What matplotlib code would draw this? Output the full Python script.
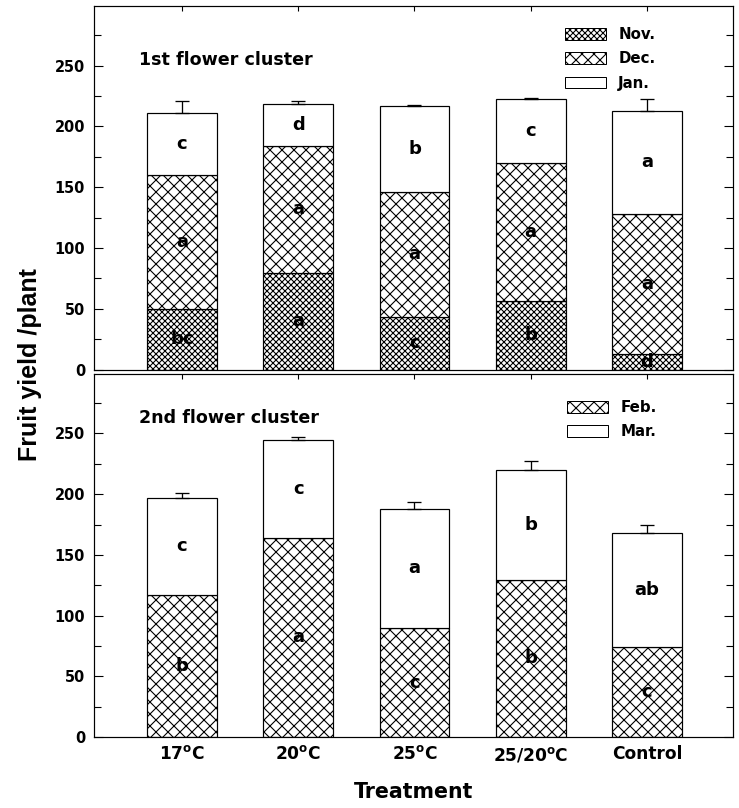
import matplotlib
matplotlib.use('Agg')
import matplotlib.pyplot as plt
import numpy as np
from matplotlib.patches import Patch
from matplotlib.ticker import MultipleLocator

plt.rcParams['font.family'] = ['DejaVu Sans']
plt.rcParams['font.weight'] = 'bold'
plt.rcParams['mathtext.fontset'] = 'custom'
plt.rcParams['mathtext.bf'] = 'DejaVu Sans:bold'
plt.rcParams['mathtext.rm'] = 'DejaVu Sans:bold'
plt.rcParams['hatch.linewidth'] = 1.1

# ---- data ----
treatments = ['17$^{\\mathrm{o}}$C', '20$^{\\mathrm{o}}$C', '25$^{\\mathrm{o}}$C',
              '25/20$^{\\mathrm{o}}$C', 'Control']

# 1st flower cluster (segment heights)
nov = [49.7, 79.5, 43.0, 56.4, 12.8]
dec = [110.5, 104.6, 103.2, 113.7, 115.2]
jan = [50.8, 34.3, 70.8, 52.5, 84.7]
err1 = [9.6, 2.2, 0.7, 0.8, 9.9]
letters_nov = ['bc', 'a', 'c', 'b', 'd']
letters_dec = ['a', 'a', 'a', 'a', 'a']
letters_jan = ['c', 'd', 'b', 'c', 'a']

# 2nd flower cluster (segment heights)
feb = [117.3, 164.2, 89.6, 129.7, 74.0]
mar = [79.8, 80.6, 98.5, 90.4, 94.3]
err2 = [4.1, 2.1, 5.7, 7.4, 6.6]
letters_feb = ['b', 'a', 'c', 'b', 'c']
letters_mar = ['c', 'c', 'a', 'b', 'ab']

W, H = 739, 808
fig = plt.figure(figsize=(W / 72, H / 72), dpi=72)
left = 94 / W
width = (733 - 94) / W
ax1 = fig.add_axes([left, 1 - 369.5 / H, width, 363.5 / H])
ax2 = fig.add_axes([left, 1 - 737 / H, width, 363 / H])

x = np.arange(1, len(treatments) + 1)
bw = 0.6

HATCH_DENSE = 'xxxx'
HATCH_WIDE = 'xx'


def draw_stack(ax, segs, hatches, letters, err):
    bottom = np.zeros(len(x))
    for seg, h, lab in zip(segs, hatches, letters):
        seg = np.asarray(seg)
        ax.bar(x, seg, bw, bottom=bottom, color='white', edgecolor='black',
               hatch=h, linewidth=1.2, zorder=2)
        for xi, b, s, t in zip(x, bottom, seg, lab):
            ax.text(xi, b + s / 2, t, ha='center', va='center', fontsize=18,
                    fontweight='bold', color='black', zorder=4)
        bottom = bottom + seg
    ax.errorbar(x, bottom, yerr=[np.zeros(len(x)), err], fmt='none',
                ecolor='black', elinewidth=1.3, capsize=7, capthick=1.3, zorder=3)


draw_stack(ax1, [nov, dec, jan], [HATCH_DENSE, HATCH_WIDE, ''],
           [letters_nov, letters_dec, letters_jan], err1)
draw_stack(ax2, [feb, mar], [HATCH_WIDE, ''], [letters_feb, letters_mar], err2)

for ax in (ax1, ax2):
    ax.set_xlim(0.243, 5.74)
    ax.set_ylim(0, 299)
    ax.yaxis.set_major_locator(MultipleLocator(50))
    ax.yaxis.set_minor_locator(MultipleLocator(25))
    ax.set_xticks(x)
    ax.tick_params(axis='y', which='major', direction='in', length=9, width=1.1,
                   left=True, right=True, labelsize=14.5, pad=9)
    ax.tick_params(axis='y', which='minor', direction='in', length=7, width=1.1,
                   left=True, right=True)
    ax.tick_params(axis='x', which='major', direction='in', length=5, width=1.1,
                   top=True, bottom=True)
    for sp in ax.spines.values():
        sp.set_linewidth(1.2)
    ax.set_yticks([0, 50, 100, 150, 200, 250])
    for lbl in ax.get_yticklabels():
        lbl.set_fontweight('bold')

ax1.set_xticklabels([])
ax2.set_xticklabels(treatments, fontsize=17, fontweight='bold')
ax2.tick_params(axis='x', pad=8)
ax2.set_xlabel('Treatment', fontsize=20.5, fontweight='bold', labelpad=18)

ax1.text(0.0704, 0.851, '1st flower cluster', transform=ax1.transAxes,
         fontsize=17.5, fontweight='bold', va='center', ha='left')
ax2.text(0.0704, 0.879, '2nd flower cluster', transform=ax2.transAxes,
         fontsize=17.5, fontweight='bold', va='center', ha='left')

fig.text(30 / W, 1 - 365 / H, 'Fruit yield /plant', rotation=90,
         fontsize=25, fontweight='bold', family='Liberation Sans',
         ha='center', va='center')

h1 = [Patch(facecolor='white', edgecolor='black', hatch=HATCH_DENSE, linewidth=1.0),
      Patch(facecolor='white', edgecolor='black', hatch=HATCH_WIDE, linewidth=1.0),
      Patch(facecolor='white', edgecolor='black', linewidth=1.0)]
ax1.legend(h1, ['Nov.', 'Dec.', 'Jan.'], loc='upper left',
           bbox_to_anchor=((565 - 94) / 639, (369.5 - 27) / 363.5),
           frameon=False, handlelength=2.75, handleheight=0.8,
           handletextpad=0.8, labelspacing=0.62, borderpad=0, borderaxespad=0,
           prop={'weight': 'bold', 'size': 15})
h2 = [Patch(facecolor='white', edgecolor='black', hatch=HATCH_WIDE, linewidth=1.0),
      Patch(facecolor='white', edgecolor='black', linewidth=1.0)]
ax2.legend(h2, ['Feb.', 'Mar.'], loc='upper left',
           bbox_to_anchor=((567 - 94) / 639, (737 - 400) / 363),
           frameon=False, handlelength=2.75, handleheight=0.8,
           handletextpad=0.8, labelspacing=0.62, borderpad=0, borderaxespad=0,
           prop={'weight': 'bold', 'size': 15})

fig.savefig('out.png', dpi=72)
